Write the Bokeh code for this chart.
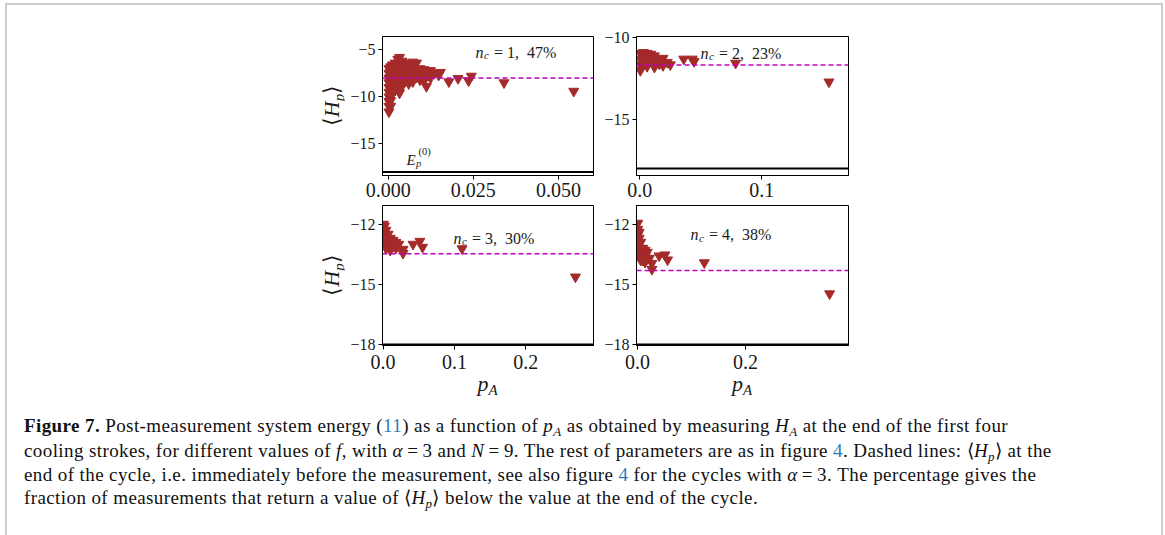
import math
from bokeh.plotting import figure
from bokeh.models import Range1d, FixedTicker, Span, Label, Div, Spacer, CustomJSTickFormatter
from bokeh.layouts import row, column
from bokeh.embed import file_html
from bokeh.resources import INLINE

# ---------------- data ----------------
nc_values = [1, 2, 3, 4]
percentages = [47, 23, 30, 38]
end_cycle_energy = [-8.0, -11.66, -13.47, -14.31]   # dashed lines <H_p>
ground_energy = -18.0                                # E_p^(0)

p1_x = [0.0002]*10 + [0.0007]*8 + [0.0012]*6 + [0.0020]*6 + [0.0028]*6 + [0.0033]*2 + \
       [0.0040]*5 + [0.0050]*4 + [0.0060]*4 + [0.0072]*4 + [0.0083]*3 + [0.0093]*3 + \
       [0.0105]*3 + [0.0112] + [0.0124]*3 + [0.0135, 0.0148, 0.0153, 0.0178, 0.0205,
       0.0236, 0.0244, 0.034, 0.0545]
p1_y = [-7.0, -7.5, -8.0, -8.5, -9.0, -9.5, -10.0, -10.5, -11.0, -11.6,
        -6.8, -7.4, -8.0, -8.6, -9.2, -9.8, -10.4, -11.0,
        -6.6, -7.2, -7.8, -8.4, -9.0, -9.7,
        -6.4, -7.0, -7.6, -8.2, -8.8, -9.3,
        -6.0, -6.6, -7.2, -7.8, -8.4, -9.0,
        -5.8, -9.6,
        -6.2, -6.9, -7.5, -8.2, -8.9,
        -6.4, -7.0, -7.7, -8.3,
        -6.5, -7.2, -7.9, -8.6,
        -6.3, -7.0, -7.7, -8.4,
        -6.4, -7.1, -7.9,
        -7.0, -7.6, -8.2,
        -7.1, -7.7, -8.3,
        -8.9,
        -7.2, -7.6, -8.0,
        -7.5, -7.7, -7.4, -8.4, -8.05, -8.3, -7.8, -8.5, -9.4]

p2_x = [0.0005]*4 + [0.003]*3 + [0.006]*3 + [0.009]*2 + [0.012]*3 + [0.016]*2 + [0.019]*2 + \
       [0.0225, 0.025, 0.036, 0.043, 0.0445, 0.0785, 0.155]
p2_y = [-10.95, -11.3, -11.65, -12.0,
        -10.9, -11.25, -11.6,
        -10.95, -11.3, -11.75,
        -11.0, -11.35,
        -11.1, -11.45, -11.8,
        -11.3, -11.6,
        -11.25, -11.7,
        -11.5, -11.65, -11.3, -11.3, -11.45, -11.55, -12.7]

p3_x = [0.0005]*4 + [0.002]*4 + [0.004]*4 + [0.007]*3 + [0.010]*3 + [0.014]*2 + [0.018]*2 + \
       [0.022, 0.028, 0.028, 0.042, 0.0516, 0.0553, 0.1107, 0.2697]
p3_y = [-12.0, -12.3, -12.6, -12.9,
        -12.1, -12.4, -12.7, -13.0,
        -12.3, -12.6, -12.9, -13.2,
        -12.5, -12.8, -13.1,
        -12.7, -13.0, -13.3,
        -12.8, -13.1,
        -12.9, -13.2,
        -13.0, -13.25, -13.45, -13.0, -12.85, -13.15, -13.22, -14.63]

p4_x = [0.0005]*6 + [0.003]*5 + [0.006]*4 + [0.010]*3 + [0.014]*3 + [0.018]*2 + \
       [0.022, 0.0266, 0.0266, 0.040, 0.0508, 0.0557, 0.1238, 0.356]
p4_y = [-11.95, -12.25, -12.55, -12.85, -13.15, -13.45,
        -12.4, -12.7, -13.0, -13.3, -13.6,
        -12.9, -13.2, -13.5, -13.8,
        -13.2, -13.5, -13.8,
        -13.3, -13.6, -13.9,
        -13.4, -13.7,
        -13.7, -13.95, -14.25, -13.58, -13.53, -13.78, -13.92, -15.47]

x_ticks = [[0.0, 0.025, 0.05], [0.0, 0.1], [0.0, 0.1, 0.2], [0.0, 0.2]]
x_decimals = [3, 1, 1, 1]
y_ticks = [[-15, -10, -5], [-15, -10], [-18, -15, -12], [-18, -15, -12]]
x_ranges = [(-0.0017, 0.0603), (-0.0027, 0.171), (-0.0008, 0.295), (-0.0019, 0.391)]
y_ranges = [(-18.37, -3.585), (-18.43, -9.92), (-18.05, -11.07), (-18.05, -11.07)]

# ---------------- styling ----------------
SERIF = "Liberation Serif"
TXT = "#1a1a1a"
BROWN = "#a52a2a"
MAGENTA = "#bf00bf"
LINK = "#2b7bb9"


def lab(p, text, sx, sy, size, italic=False, angle=0.0):
    p.add_layout(Label(x=sx, y=sy, x_units="screen", y_units="screen", text=text,
                       text_font=SERIF, text_font_size=f"{size}px",
                       text_font_style="italic" if italic else "normal",
                       text_align="left", text_baseline="alphabetic",
                       angle=angle, text_color=TXT))


def make_panel(i, xs, ys, width, height, mbl, mbr, mbt, mbb, standoff):
    p = figure(width=width, height=height, output_backend="svg", toolbar_location=None,
               tools="", x_range=Range1d(*x_ranges[i]), y_range=Range1d(*y_ranges[i]),
               min_border_left=mbl, min_border_right=mbr, min_border_top=mbt,
               min_border_bottom=mbb, background_fill_color="white",
               border_fill_color="white", margin=(0, 0, 0, 0))
    p.grid.visible = False
    p.outline_line_color = "black"
    p.outline_line_width = 1
    p.outline_line_alpha = 1.0
    p.xaxis.ticker = FixedTicker(ticks=x_ticks[i])
    p.yaxis.ticker = FixedTicker(ticks=y_ticks[i])
    p.xaxis.formatter = CustomJSTickFormatter(
        code=f"return tick.toFixed({x_decimals[i]});")
    p.yaxis.formatter = CustomJSTickFormatter(
        code="return tick < 0 ? '\u2212' + Math.abs(tick).toFixed(0) : tick.toFixed(0);")
    for ax in (p.xaxis[0], p.yaxis[0]):
        ax.major_tick_out = 4
        ax.major_tick_in = 0
        ax.minor_tick_out = 0
        ax.minor_tick_in = 0
        ax.axis_line_color = "black"
        ax.major_tick_line_color = "black"
        ax.major_label_text_font = SERIF
        ax.major_label_text_color = TXT
    p.xaxis.major_label_text_font_size = "20px"
    p.xaxis.major_label_standoff = standoff
    p.yaxis.major_label_text_font_size = "16px"
    p.yaxis.major_label_standoff = 3

    p.scatter(xs, ys, marker="inverted_triangle", size=10,
              fill_color=BROWN, line_color=BROWN)
    p.add_layout(Span(location=end_cycle_energy[i], dimension="width",
                      line_color=MAGENTA, line_dash="5 3", line_width=1.5))
    p.add_layout(Span(location=ground_energy, dimension="width",
                      line_color="black", line_width=2))
    return p


# frame-relative text anchors (screen px, y measured up from frame bottom)
nc_pos = [(93, 123.5), (64, 122.5), (71, 107.3), (54, 110.7)]

p1 = make_panel(0, p1_x, p1_y, 252, 199, 38, 3, 31, 29, 3)
p2 = make_panel(1, p2_x, p2_y, 257, 199, 40, 5, 31, 29, 3)
p3 = make_panel(2, p3_x, p3_y, 252, 172, 38, 3, 1, 31, 5)
p4 = make_panel(3, p4_x, p4_y, 257, 172, 40, 5, 1, 31, 5)
panels = [p1, p2, p3, p4]

for i, p in enumerate(panels):
    sx, sy = nc_pos[i]
    lab(p, "n", sx, sy, 16, italic=True)
    lab(p, "c", sx + 8.5, sy - 3, 11, italic=True)
    lab(p, f"= {nc_values[i]}, \u00a0{percentages[i]}%", sx + 18.5, sy, 16)

# E_p^(0) label
lab(p1, "E", 24, 16, 15, italic=True)
lab(p1, "p", 33.5, 12.5, 10.5, italic=True)
lab(p1, "(0)", 36, 24, 10.5)


def ylabel_div(height, tx, ty):
    html = (
        "<div style=\"width:140px;height:40px;line-height:40px;text-align:center;"
        "white-space:nowrap;font-family:'Liberation Serif';font-size:22px;color:#1a1a1a;"
        f"transform:translate({tx}px,{ty}px) rotate(-90deg);\">"
        "\u27e8<i>H</i><span style=\"font-size:15px;font-style:italic;position:relative;"
        "top:5px\">p</span>\u27e9</div>"
    )
    return Div(text=html, width=40, height=height, margin=(0, 0, 0, 0),
               styles={"overflow": "visible"})


def xlabel_div(width):
    html = (
        f"<div style=\"width:{width}px;font-family:'Liberation Serif';font-size:22px;"
        "line-height:16px;text-align:center;color:#1a1a1a;white-space:nowrap;\">"
        "<i>p</i><span style=\"font-size:15px;font-style:italic;position:relative;"
        "top:4px\">A</span></div>"
    )
    return Div(text=html, width=width, height=24, margin=(0, 0, 0, 0),
               styles={"overflow": "visible"})


SUB = "font-size:13px;position:relative;top:4px"
caption_html = (
    "<div style=\"font-family:'Liberation Serif';font-size:19px;line-height:22.5px;"
    "letter-spacing:0.4px;white-space:nowrap;color:#111;\">"
    f"<b>Figure 7.</b> Post-measurement system energy (<span style='color:{LINK}'>11</span>) "
    f"as a function of <i>p<span style='{SUB}'>A</span></i> as obtained by measuring "
    f"<i>H<span style='{SUB}'>A</span></i> at the end of the first four<br>"
    "cooling strokes, for different values of <i>f</i>, with <i>\u03b1</i>\u2009=\u20093 and "
    "<i>N</i>\u2009=\u20099. The rest of parameters are as in figure "
    f"<span style='color:{LINK}'>4</span>. Dashed lines: \u27e8<i>H<span style='{SUB}'>p</span></i>\u27e9 at the<br>"
    "end of the cycle, i.e. immediately before the measurement, see also figure "
    f"<span style='color:{LINK}'>4</span> for the cycles with <i>\u03b1</i>\u2009=\u20093. "
    "The percentage gives the<br>"
    f"fraction of measurements that return a value of \u27e8<i>H<span style='{SUB}'>p</span></i>\u27e9 "
    "below the value at the end of the cycle."
    "</div>"
)
caption = Div(text=caption_html, width=1137, height=120, margin=(0, 0, 0, 0))

GRAY = "#cccccc"
top_bar = Div(text="", width=1158, height=2, margin=(0, 0, 0, 0),
              styles={"background-color": GRAY})
left_bar = Div(text="", width=2, height=530, margin=(0, 0, 0, 0),
               styles={"background-color": GRAY})
right_bar = Div(text="", width=2, height=530, margin=(0, 0, 0, 0),
                styles={"background-color": GRAY})

content = column(
    row(Spacer(width=297, height=199), ylabel_div(199, -42.5, 80.5), p1, p2),
    row(Spacer(width=297, height=172), ylabel_div(172, -42.5, 51), p3, p4),
    row(Spacer(width=375, height=24), xlabel_div(211), Spacer(width=43, height=24),
        xlabel_div(212)),
    Spacer(width=10, height=15),
    row(Spacer(width=17, height=120), caption),
    width=1154,
)

layout = column(
    Spacer(width=10, height=3),
    row(Spacer(width=5, height=2), top_bar),
    row(Spacer(width=5, height=530), left_bar, content, right_bar),
)

open("out.html", "w").write(file_html(layout, INLINE))
